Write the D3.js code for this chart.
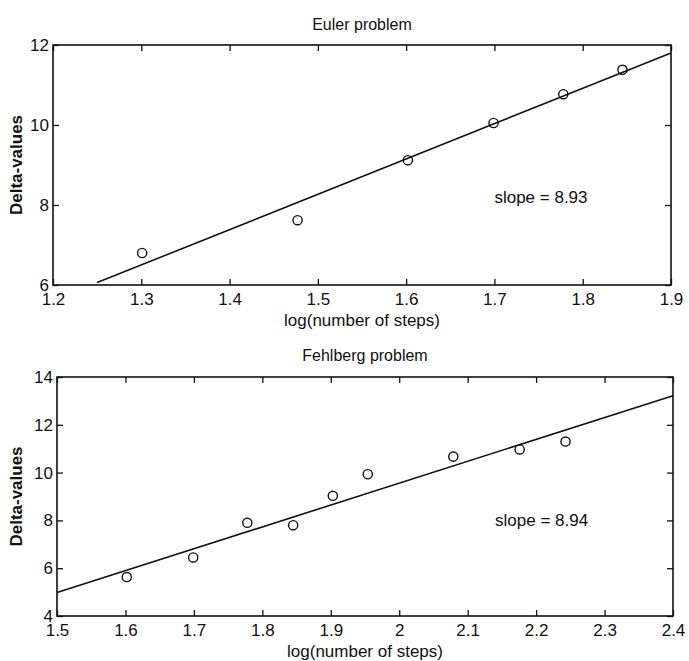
<!DOCTYPE html>
<html>
<head>
<meta charset="utf-8">
<script src="https://cdn.jsdelivr.net/npm/d3@7"></script>
<style>
  body { margin: 0; background: #fff; }
  svg text { font-family: "Liberation Sans", Arial, Helvetica, sans-serif; fill: #111; }
</style>
</head>
<body>
<svg id="chart" width="689" height="661"></svg>
<script>
// Euler problem
var eulerX = [1.301, 1.477, 1.602, 1.699, 1.778, 1.845]
var eulerY = [6.8, 7.62, 9.12, 10.05, 10.77, 11.38]
var eulerFitX = [1.25, 1.9]
var eulerFitY = [6.06, 11.8]
var eulerXTicks = [1.2, 1.3, 1.4, 1.5, 1.6, 1.7, 1.8, 1.9]
var eulerYTicks = [6, 8, 10, 12]

// Fehlberg problem
var fehlX = [1.602, 1.699, 1.778, 1.845, 1.903, 1.954, 2.079, 2.176, 2.243]
var fehlY = [5.63, 6.45, 7.9, 7.8, 9.03, 9.93, 10.67, 10.97, 11.3]
var fehlFitX = [1.5, 2.4]
var fehlFitY = [4.98, 13.22]
var fehlXTicks = [1.5, 1.6, 1.7, 1.8, 1.9, 2, 2.1, 2.2, 2.3, 2.4]
var fehlYTicks = [4, 6, 8, 10, 12, 14]

var svg = d3.select('#chart')

function panel(opt) {
    var x = d3.scaleLinear().domain(opt.xDomain).range([opt.left, opt.right])
    var y = d3.scaleLinear().domain(opt.yDomain).range([opt.bottom, opt.top])
    var g = svg.append('g')
    var fmt = function (d) { return String(+d.toFixed(1)) }

    // ticks pointing inward, on all four sides
    g.append('g').attr('transform', 'translate(0,' + opt.bottom + ')')
        .call(d3.axisBottom(x).tickValues(opt.xTicks).tickSizeInner(-6).tickSizeOuter(0).tickFormat(fmt).tickPadding(8))
    g.append('g').attr('transform', 'translate(0,' + opt.top + ')')
        .call(d3.axisTop(x).tickValues(opt.xTicks).tickSizeInner(-6).tickSizeOuter(0).tickFormat(''))
    g.append('g').attr('transform', 'translate(' + opt.left + ',0)')
        .call(d3.axisLeft(y).tickValues(opt.yTicks).tickSizeInner(-6).tickSizeOuter(0).tickFormat(fmt).tickPadding(4))
    g.append('g').attr('transform', 'translate(' + opt.right + ',0)')
        .call(d3.axisRight(y).tickValues(opt.yTicks).tickSizeInner(-6).tickSizeOuter(0).tickFormat(''))

    g.selectAll('.domain').remove()
    g.selectAll('.tick line').attr('stroke', '#111').attr('stroke-width', 1.3)
    g.selectAll('.tick text').attr('font-size', '17px').attr('fill', '#111')

    g.append('rect')
        .attr('x', opt.left).attr('y', opt.top)
        .attr('width', opt.right - opt.left).attr('height', opt.bottom - opt.top)
        .attr('fill', 'none').attr('stroke', '#111').attr('stroke-width', 1.6)

    // fitted line
    var line = d3.line().x(function (d) { return x(d[0]) }).y(function (d) { return y(d[1]) })
    g.append('path')
        .attr('d', line(d3.zip(opt.fitX, opt.fitY)))
        .attr('fill', 'none').attr('stroke', '#111').attr('stroke-width', 1.6)

    g.selectAll('.pt')
        .data(d3.zip(opt.xs, opt.ys))
        .enter().append('circle')
        .attr('class', 'pt')
        .attr('cx', function (d) { return x(d[0]) })
        .attr('cy', function (d) { return y(d[1]) })
        .attr('r', 4.6)
        .attr('fill', 'none').attr('stroke', '#111').attr('stroke-width', 1.4)

    g.append('text')
        .attr('x', x(opt.slopeAt[0])).attr('y', y(opt.slopeAt[1]))
        .attr('dy', '0.35em')
        .attr('font-size', '17px')
        .text(opt.slopeText)

    g.append('text')
        .attr('x', (opt.left + opt.right) / 2).attr('y', opt.titleY)
        .attr('text-anchor', 'middle')
        .attr('font-size', '16px')
        .text(opt.title)

    g.append('text')
        .attr('x', (opt.left + opt.right) / 2).attr('y', opt.xLabelY)
        .attr('text-anchor', 'middle')
        .attr('font-size', '17px')
        .text('log(number of steps)')

    g.append('text')
        .attr('transform', 'translate(22,' + (opt.top + opt.bottom) / 2 + ') rotate(-90)')
        .attr('text-anchor', 'middle')
        .attr('font-size', '17px')
        .attr('font-weight', 'bold')
        .text('Delta-values')
}

panel({
    left: 53, right: 671, top: 45, bottom: 285,
    xDomain: [1.2, 1.9], yDomain: [6, 12],
    xTicks: eulerXTicks, yTicks: eulerYTicks,
    xs: eulerX, ys: eulerY, fitX: eulerFitX, fitY: eulerFitY,
    slopeAt: [1.7, 8.2], slopeText: 'slope = 8.93',
    title: 'Euler problem', titleY: 30, xLabelY: 326
})

panel({
    left: 57, right: 673, top: 377, bottom: 616,
    xDomain: [1.5, 2.4], yDomain: [4, 14],
    xTicks: fehlXTicks, yTicks: fehlYTicks,
    xs: fehlX, ys: fehlY, fitX: fehlFitX, fitY: fehlFitY,
    slopeAt: [2.14, 8], slopeText: 'slope = 8.94',
    title: 'Fehlberg problem', titleY: 361, xLabelY: 657
})
</script>
</body>
</html>
